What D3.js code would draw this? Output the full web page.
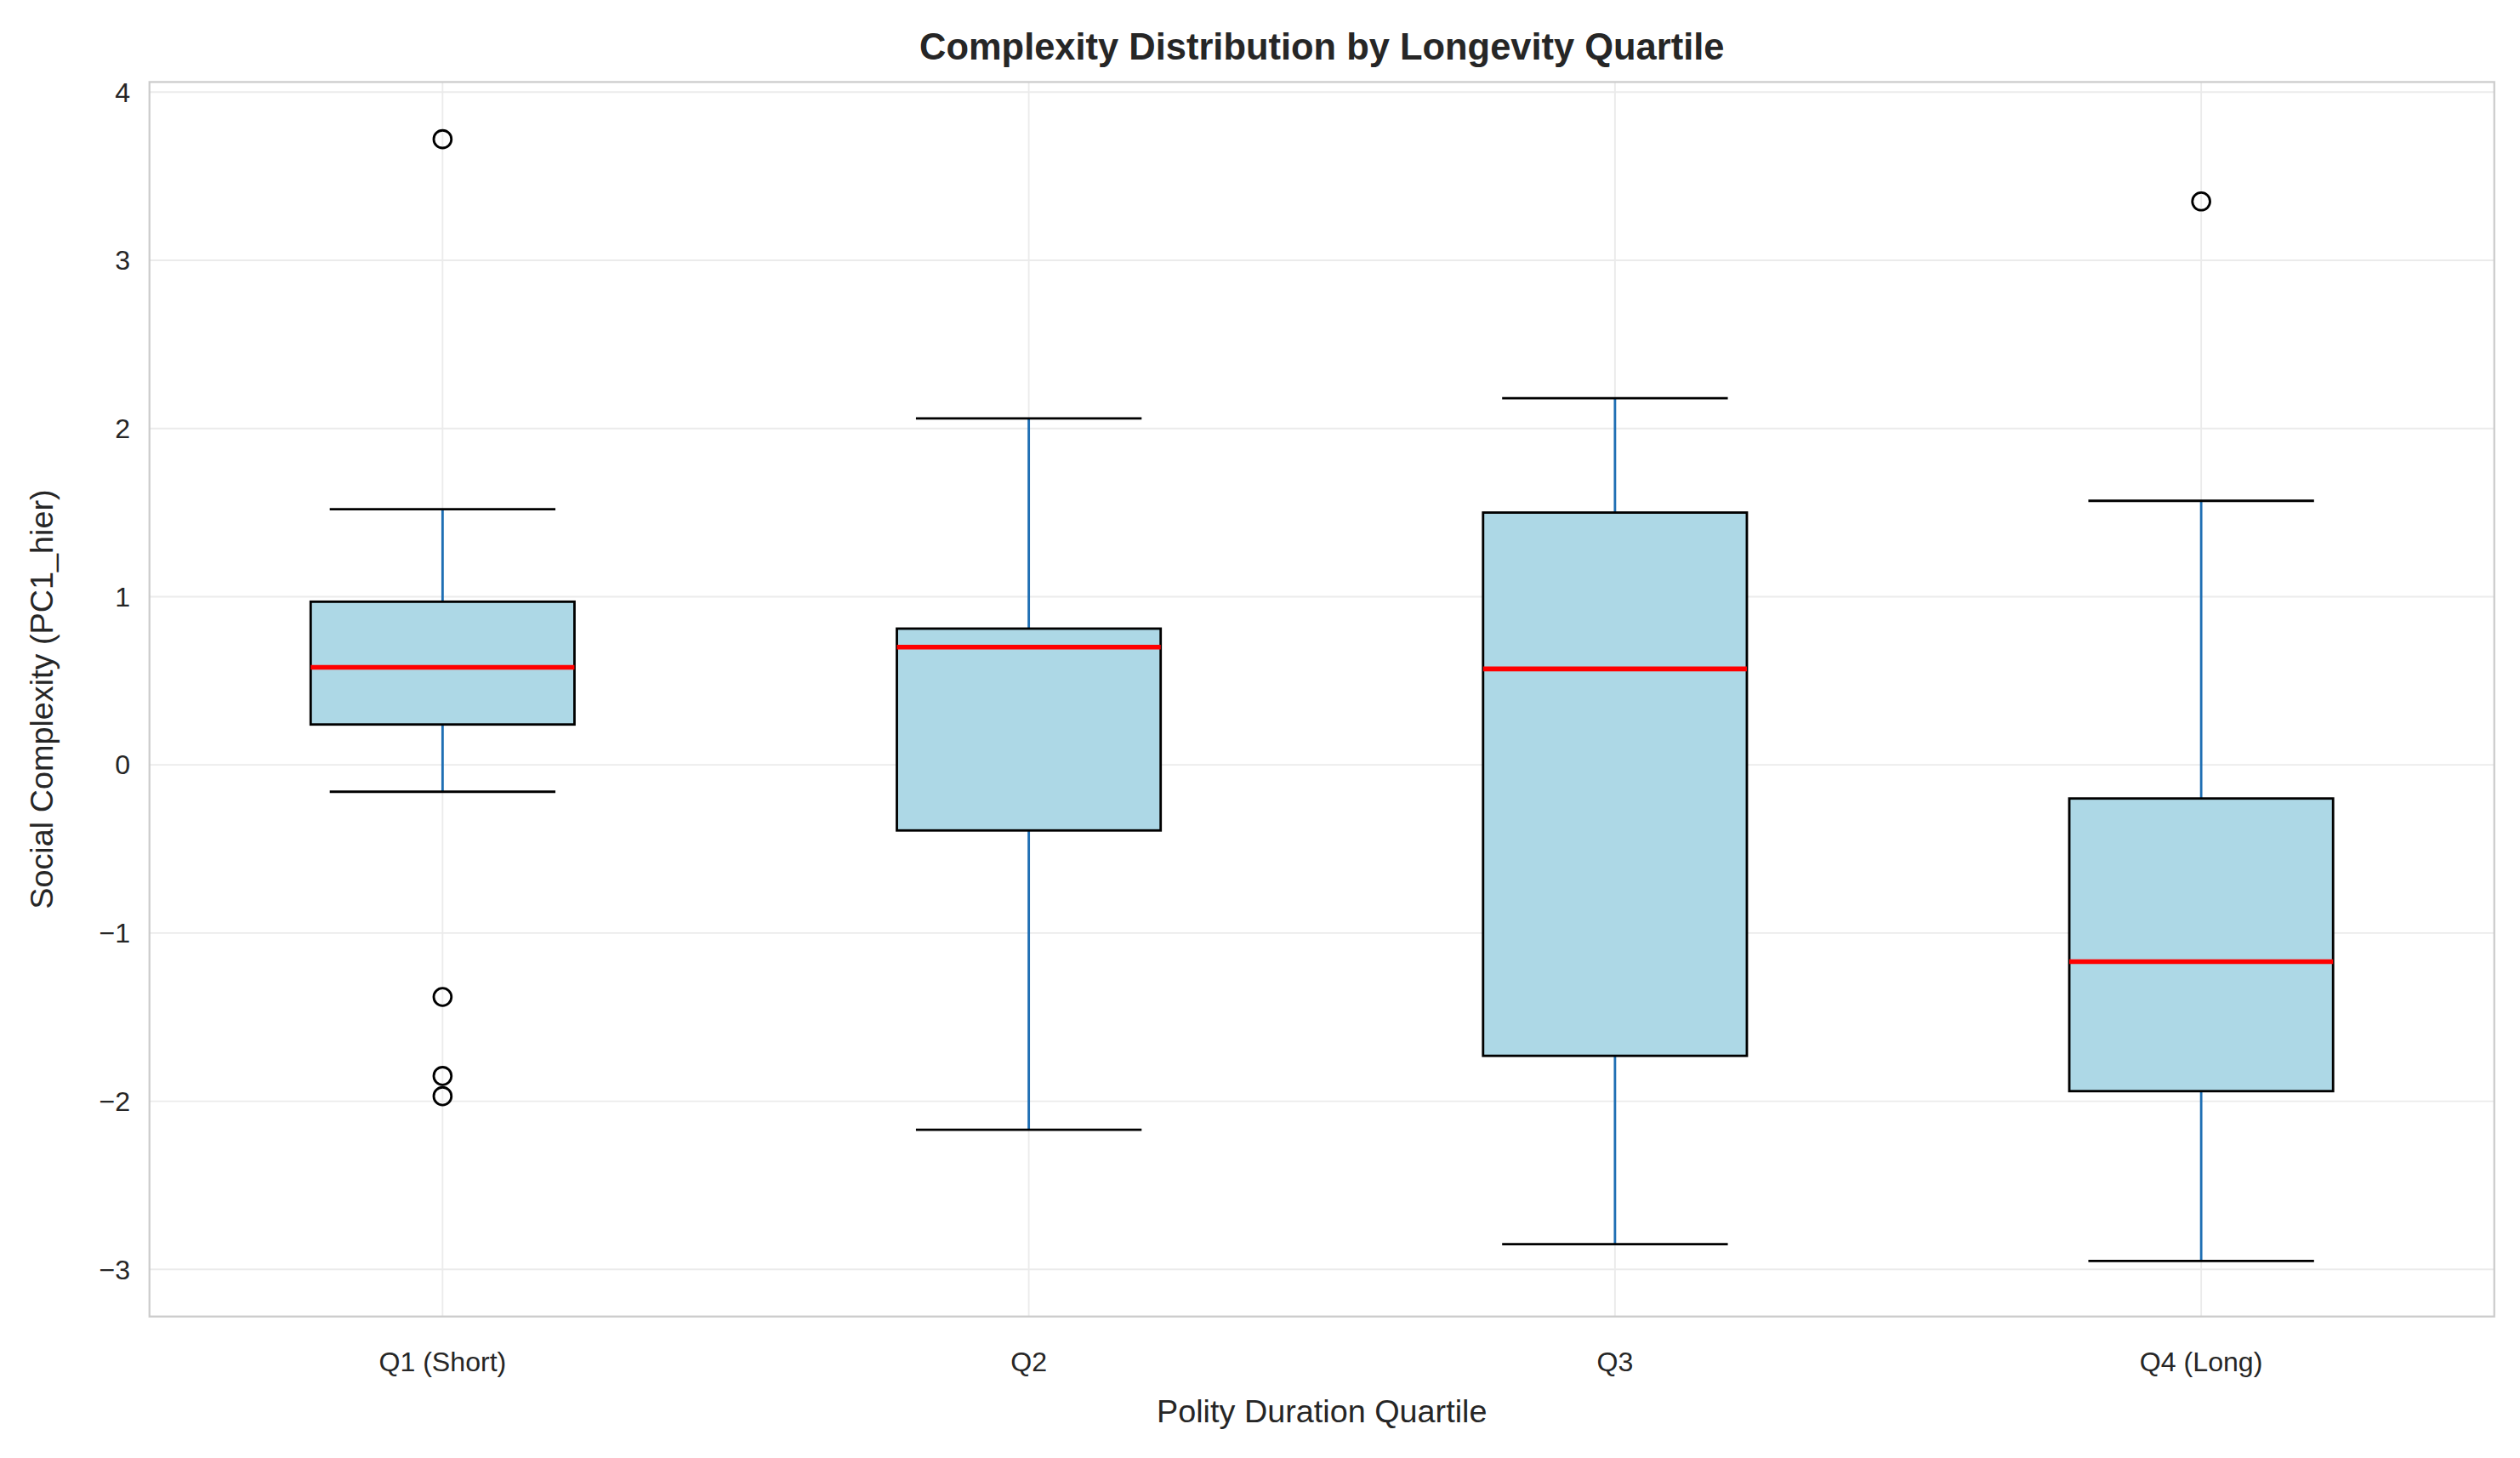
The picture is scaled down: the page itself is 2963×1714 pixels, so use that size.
<!DOCTYPE html>
<html><head><meta charset="utf-8">
<script src="https://cdn.jsdelivr.net/npm/d3@7"></script>
<style>body{margin:0;background:#fff}text{font-family:"Liberation Sans",Arial,sans-serif;fill:#262626}</style>
</head><body><svg id="c"></svg>
<script>
var categories = ['Q1 (Short)', 'Q2', 'Q3', 'Q4 (Long)'];
var whiskerLow = [-0.16, -2.17, -2.85, -2.95];
var q1 = [0.24, -0.39, -1.73, -1.94];
var medians = [0.58, 0.70, 0.57, -1.17];
var q3 = [0.97, 0.81, 1.50, -0.20];
var whiskerHigh = [1.52, 2.06, 2.18, 1.57];
var outliers = [[3.72, -1.38, -1.85, -1.97], [], [], [3.35]];
var yTicks = [-3, -2, -1, 0, 1, 2, 3, 4];

var W = 1568, H = 907, L = 93, R = 1552, T = 51, B = 819;
var svg = d3.select('#c').attr('width', 2963).attr('height', 1714).attr('viewBox', '0 0 ' + W + ' ' + H);
var x = d3.scalePoint().domain(categories).range([L, R]).padding(0.5);
var y = d3.scaleLinear().domain([-3.28, 4.06]).range([B, T]);
var step = x.step(), bw = step * 0.45, cw = step * 0.385;

// grid
svg.append('g').selectAll('line').data(yTicks).enter().append('line')
  .attr('x1', L).attr('x2', R).attr('y1', function(d) { return y(d); }).attr('y2', function(d) { return y(d); })
  .attr('stroke', '#ebebeb').attr('stroke-width', 1);
svg.append('g').selectAll('line').data(categories).enter().append('line')
  .attr('y1', T).attr('y2', B).attr('x1', function(d) { return x(d); }).attr('x2', function(d) { return x(d); })
  .attr('stroke', '#ebebeb').attr('stroke-width', 1);
svg.append('rect').attr('x', L).attr('y', T).attr('width', R - L).attr('height', B - T)
  .attr('fill', 'none').attr('stroke', '#cccccc').attr('stroke-width', 1.2);

var g = svg.append('g').selectAll('g').data(categories).enter().append('g');
// whiskers
g.append('line').attr('x1', function(d) { return x(d); }).attr('x2', function(d) { return x(d); })
  .attr('y1', function(d, i) { return y(whiskerLow[i]); }).attr('y2', function(d, i) { return y(q1[i]); })
  .attr('stroke', '#1f6fb4').attr('stroke-width', 1.5);
g.append('line').attr('x1', function(d) { return x(d); }).attr('x2', function(d) { return x(d); })
  .attr('y1', function(d, i) { return y(whiskerHigh[i]); }).attr('y2', function(d, i) { return y(q3[i]); })
  .attr('stroke', '#1f6fb4').attr('stroke-width', 1.5);
[whiskerLow, whiskerHigh].forEach(function(arr) {
  g.append('line').attr('x1', function(d) { return x(d) - cw / 2; }).attr('x2', function(d) { return x(d) + cw / 2; })
    .attr('y1', function(d, i) { return y(arr[i]); }).attr('y2', function(d, i) { return y(arr[i]); })
    .attr('stroke', '#000').attr('stroke-width', 1.5);
});
// boxes
g.append('rect').attr('x', function(d) { return x(d) - bw / 2; }).attr('width', bw)
  .attr('y', function(d, i) { return y(q3[i]); }).attr('height', function(d, i) { return y(q1[i]) - y(q3[i]); })
  .attr('fill', '#add8e6').attr('stroke', '#000').attr('stroke-width', 1.5);
g.append('line').attr('x1', function(d) { return x(d) - bw / 2; }).attr('x2', function(d) { return x(d) + bw / 2; })
  .attr('y1', function(d, i) { return y(medians[i]); }).attr('y2', function(d, i) { return y(medians[i]); })
  .attr('stroke', 'red').attr('stroke-width', 3);
// outliers
g.each(function(d, i) {
  d3.select(this).selectAll('circle').data(outliers[i]).enter().append('circle')
    .attr('cx', x(d)).attr('cy', function(v) { return y(v); }).attr('r', 5.5)
    .attr('fill', 'none').attr('stroke', '#000').attr('stroke-width', 1.5);
});

// axes labels
svg.append('g').selectAll('text').data(yTicks).enter().append('text')
  .attr('x', L - 12).attr('y', function(d) { return y(d) + 6; }).attr('text-anchor', 'end').style('font-size', '17px')
  .text(function(d) { return d < 0 ? '\u2212' + Math.abs(d) : d; });
svg.append('g').selectAll('text').data(categories).enter().append('text')
  .attr('x', function(d) { return x(d); }).attr('y', B + 34).attr('text-anchor', 'middle').style('font-size', '17px')
  .text(function(d) { return d; });
svg.append('text').attr('x', (L + R) / 2).attr('y', 885).attr('text-anchor', 'middle').style('font-size', '20px')
  .text('Polity Duration Quartile');
svg.append('text').attr('transform', 'translate(33,' + (T + B) / 2 + ') rotate(-90)').attr('text-anchor', 'middle')
  .style('font-size', '20px').text('Social Complexity (PC1_hier)');
svg.append('text').attr('x', (L + R) / 2).attr('y', 37).attr('text-anchor', 'middle').style('font-size', '23px')
  .style('font-weight', 'bold').text('Complexity Distribution by Longevity Quartile');
</script></body></html>
